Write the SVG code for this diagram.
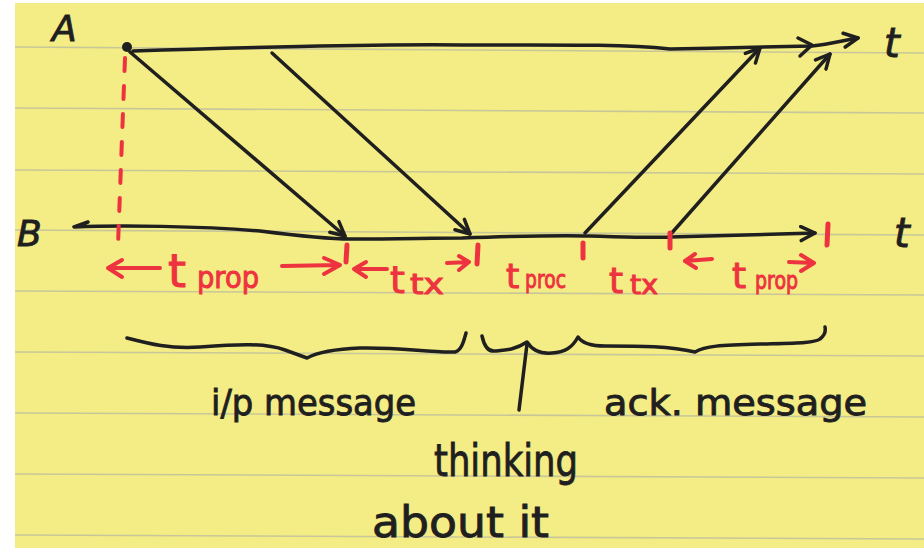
<svg xmlns="http://www.w3.org/2000/svg" width="924" height="550" viewBox="0 0 924 550">
<defs>
<style>
.ink{fill:none;stroke:#1f1f1f;stroke-width:3.5;stroke-linecap:round;stroke-linejoin:round}
.red{fill:none;stroke:#ee3340;stroke-width:4;stroke-linecap:round;stroke-linejoin:round}
.tick{fill:none;stroke:#ee3340;stroke-width:5;stroke-linecap:round}
.rule{fill:none;stroke:#c8c79a;stroke-width:1.6}
.lbl{font-family:"DejaVu Sans","Liberation Sans",sans-serif;fill:#1f1f1f;stroke:#1f1f1f;stroke-width:0.9}
.rt{font-family:"DejaVu Sans","Liberation Sans",sans-serif;fill:#ee3340;stroke:#ee3340;stroke-width:1}
</style>
<marker id="head" viewBox="0 0 18 18" refX="16" refY="9" markerWidth="18" markerHeight="18" markerUnits="userSpaceOnUse" orient="auto">
<path d="M2,2 L16,9 L2,16" fill="none" stroke="#1f1f1f" stroke-width="3.5" stroke-linecap="round" stroke-linejoin="round"/>
</marker>
</defs>
<rect x="0" y="0" width="924" height="550" fill="#ffffff"/>
<rect x="15" y="3" width="909" height="545" fill="#f4ec84"/>
<g id="paper-rules">
<path class="rule" d="M15,47 L924,53"/>
<path class="rule" d="M15,108 L924,113"/>
<path class="rule" d="M15,170 L924,174"/>
<path class="rule" d="M15,230 L924,235"/>
<path class="rule" d="M15,291 L924,295"/>
<path class="rule" d="M15,352 L924,356"/>
<path class="rule" d="M15,413 L924,417"/>
<path class="rule" d="M15,474 L924,478"/>
<path class="rule" d="M15,535 L924,539"/>
</g>
<g id="nodeA">
<text class="lbl" x="52" y="41" font-size="36" font-style="italic">A</text>
<circle cx="127" cy="47" r="5" fill="#1f1f1f"/>
<path class="ink" d="M133,51 C220,48 380,44 462,45 C560,45 620,44 670,49 C720,48 780,47 812,46 C830,44 845,40 858,38" marker-end="url(#head)"/>
<path class="ink" d="M798,38 L812,45 L800,56"/>
<text class="lbl" x="884" y="57" font-size="40" font-style="italic">t</text>
</g>
<g id="nodeB">
<text class="lbl" x="17" y="246" font-size="36" font-style="italic">B</text>
<path class="ink" d="M88,222 L74,227 C120,225 200,226 260,231 C300,236 330,239 350,239 C400,239 430,238 462,238 C520,236 560,235 590,236 C630,237 650,238 670,237 C740,235 790,234 815,233" marker-end="url(#head)"/>
<text class="lbl" x="894" y="247" font-size="40" font-style="italic">t</text>
</g>
<g id="connectors">
<path class="ink" d="M130,52 L345,236" marker-end="url(#head)"/>
<path class="ink" d="M272,53 L470,234" marker-end="url(#head)"/>
<path class="ink" d="M585,233 L760,48" marker-end="url(#head)"/>
<path class="ink" d="M670,235 L830,54" marker-end="url(#head)"/>
</g>
<g id="timing">
<path class="red" d="M125,58 L118,245" stroke-dasharray="13 15"/>
<path class="tick" d="M347,245 L346,262"/>
<path class="tick" d="M478,245 L477,264"/>
<path class="tick" d="M583,243 L583,258"/>
<path class="tick" d="M670,233 L670,248"/>
<path class="tick" d="M828,224 L827,245"/>
<path class="red" d="M160,268 L108,268 M122,260 L108,268 L122,277"/>
<path class="red" d="M282,266 L340,265 M324,258 L340,265 L324,274"/>
<path class="red" d="M387,269 L354,269 M366,262 L354,269 L366,277"/>
<path class="red" d="M447,263 L469,262 M459,256 L469,262 L459,270"/>
<path class="red" d="M712,259 L685,261 M695,254 L685,261 L696,268"/>
<path class="red" d="M789,262 L814,263 M801,255 L814,263 L801,271"/>
<text class="rt" x="168" y="287" font-size="46">t</text>
<text class="rt" x="197" y="288" font-size="30" textLength="62" lengthAdjust="spacingAndGlyphs">prop</text>
<text class="rt" x="390" y="293" font-size="38">t</text>
<text class="rt" x="410" y="294" font-size="28" textLength="34" lengthAdjust="spacingAndGlyphs">tx</text>
<text class="rt" x="506" y="288" font-size="34">t</text>
<text class="rt" x="525" y="288" font-size="24" textLength="41" lengthAdjust="spacingAndGlyphs">proc</text>
<text class="rt" x="609" y="293" font-size="36">t</text>
<text class="rt" x="630" y="294" font-size="26" textLength="28" lengthAdjust="spacingAndGlyphs">tx</text>
<text class="rt" x="732" y="288" font-size="36">t</text>
<text class="rt" x="755" y="289" font-size="24" textLength="43" lengthAdjust="spacingAndGlyphs">prop</text>
</g>
<g id="braces">
<path class="ink" d="M127,338 C150,344 170,349 200,347 C240,344 265,343 285,350 L307,358 C318,352 335,349 360,348 C400,347 430,353 455,352 C462,350 464,340 466,333"/>
<path class="ink" d="M482,336 C484,345 488,352 495,351 C505,350 515,350 527,342 C532,350 540,354 552,353 C565,352 572,348 578,337 C582,343 590,346 605,346 C640,346 670,346 695,352 C705,346 720,345 760,344 C795,343 815,343 820,339 C824,336 826,332 825,327"/>
<path class="ink" d="M527,344 L519,410"/>
</g>
<g id="captions">
<text class="lbl" x="211" y="415" font-size="36" textLength="205" lengthAdjust="spacingAndGlyphs">i/p message</text>
<text class="lbl" x="604" y="415" font-size="36" textLength="263" lengthAdjust="spacingAndGlyphs">ack. message</text>
<text class="lbl" x="434" y="476" font-size="44" textLength="144" lengthAdjust="spacingAndGlyphs">thinking</text>
<text class="lbl" x="372" y="537" font-size="42" textLength="177" lengthAdjust="spacingAndGlyphs">about it</text>
</g>
</svg>
